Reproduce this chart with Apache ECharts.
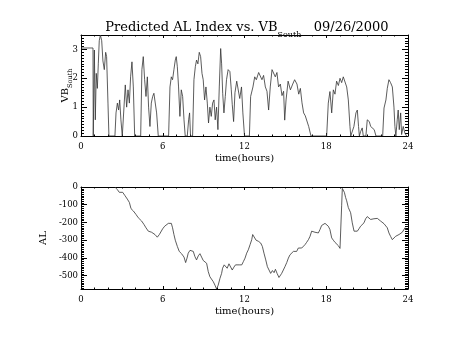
<!DOCTYPE html>
<html>
<head>
<meta charset="utf-8">
<script src="https://cdn.jsdelivr.net/npm/echarts@6/dist/echarts.min.js"></script>
<style>html,body{margin:0;padding:0;background:#fff;}#c{width:454px;height:341px;}</style>
</head>
<body>
<div id="c"></div>
<script>
// ---- data (hours, values) ----
const xTicks = [0, 6, 12, 18, 24];
const vbTime = [0,0.88,0.9,0.98,1.05,1.12,1.2,1.27,1.34,1.42,1.52,1.61,1.71,1.81,1.88,1.98,2.05,2.49,2.57,2.67,2.76,2.84,2.93,3.03,3.15,3.25,3.35,3.45,3.55,3.64,3.74,3.84,3.94,4.38,4.47,4.57,4.67,4.77,4.87,4.96,5.06,5.16,5.26,5.35,5.45,5.55,5.67,6.43,6.53,6.63,6.72,6.82,6.92,6.99,7.07,7.16,7.26,7.36,7.46,7.56,7.65,7.8,7.9,7.97,8.04,8.19,8.29,8.39,8.48,8.58,8.68,8.78,8.88,8.97,9.07,9.17,9.27,9.36,9.46,9.56,9.66,9.76,9.85,9.95,10.05,10.15,10.25,10.32,10.4,10.49,10.59,10.68,10.8,10.93,11.03,11.1,11.2,11.3,11.43,11.55,11.65,11.78,11.88,12.0,12.36,12.45,12.62,12.75,12.87,13.04,13.16,13.28,13.4,13.53,13.65,13.77,13.89,14.02,14.14,14.26,14.38,14.5,14.63,14.75,14.87,14.95,15.05,15.2,15.37,15.54,15.68,15.85,15.98,16.1,16.22,16.34,16.46,16.58,16.71,16.88,18.03,18.15,18.27,18.4,18.52,18.64,18.76,18.89,19.01,19.13,19.25,19.37,19.5,19.62,19.74,19.8,19.85,20.03,20.18,20.28,20.37,20.43,20.52,20.64,20.72,20.91,21.01,21.16,21.26,21.4,21.52,21.65,22.14,22.24,22.38,22.48,22.6,22.72,22.85,22.97,23.04,23.11,23.21,23.28,23.36,23.46,23.53,23.65,23.77,23.9];
const vbSouth = [3.05,3.05,0,2.98,0.56,2.17,1.65,2.5,3.3,3.5,3.3,2.6,2.3,2.9,2.75,1.14,0,0,0.8,1.14,0.9,1.25,0.56,0,0,1.77,1.0,1.6,1.14,2.05,2.57,1.7,0,0,2.3,2.75,1.95,1.37,2.05,1.0,0.33,1.14,1.37,1.48,1.43,0.8,0,0,1.7,2.05,1.95,2.3,2.63,2.75,2.4,1.7,0.68,1.6,1.37,0.56,0,0,0.56,0.8,0,0,1.95,2.4,2.63,2.5,2.9,2.75,2.17,1.95,1.25,1.7,1.14,0.45,1.0,0.68,1.14,1.25,0.56,1.0,0.22,1.7,3.03,2.5,1.48,0.8,1.37,1.95,2.3,2.23,1.6,1.1,0.5,1.5,1.9,1.95,1.3,1.7,0.8,0,0,1.37,1.7,2.05,1.95,2.2,2.23,1.95,2.1,1.7,1.55,0.9,1.7,2.3,2.35,2.05,2.2,1.7,1.8,1.4,1.55,0.55,1.25,1.9,1.6,1.8,1.95,1.8,1.45,1.65,1.15,0.8,0.7,0.7,0.33,0,0,1.14,1.54,0.8,1.6,1.45,1.9,1.75,2.0,1.85,2.05,2.1,1.7,1.25,0.33,0,0,0.33,0.8,0.9,0.33,0,0.15,0.28,0,0,0.56,0.5,0.33,0.3,0.22,0,0,0.97,1.25,1.65,1.95,1.85,1.7,1.0,0.33,0,0.56,0.9,0.22,0.8,0.05,0.33,0.1,0];
const alTime = [2.49,2.67,2.81,2.93,3.06,3.23,3.4,3.55,3.67,3.84,4.03,4.2,4.33,4.45,4.62,4.77,4.94,5.06,5.18,5.31,5.43,5.6,5.75,5.84,5.99,6.14,6.28,6.41,6.53,6.63,6.72,6.82,6.92,7.07,7.21,7.38,7.56,7.68,7.78,7.87,8.0,8.12,8.24,8.36,8.48,8.61,8.73,8.85,8.97,9.1,9.22,9.34,9.46,9.58,9.71,9.83,9.95,10.07,10.2,10.32,10.39,10.51,10.64,10.73,10.86,10.98,11.1,11.22,11.34,11.47,11.61,11.8,11.92,12.04,12.16,12.28,12.41,12.53,12.6,12.7,12.85,13.02,13.19,13.31,13.43,13.56,13.68,13.8,13.92,14.05,14.17,14.27,14.39,14.53,14.61,14.73,14.85,14.97,15.1,15.22,15.34,15.46,15.59,15.71,15.83,15.95,16.07,16.2,16.32,16.44,16.56,16.69,16.81,16.93,17.05,17.17,17.3,17.42,17.54,17.66,17.79,17.91,18.03,18.15,18.27,18.4,18.52,18.64,18.76,18.89,19.01,19.08,19.13,19.18,19.25,19.33,19.42,19.5,19.62,19.74,19.79,19.91,20.04,20.16,20.28,20.4,20.52,20.65,20.77,20.89,21.01,21.14,21.26,21.38,21.5,21.62,21.75,21.87,21.99,22.11,22.24,22.36,22.48,22.6,22.72,22.85,22.97,23.09,23.21,23.34,23.46,23.58,23.7,23.78,23.85];
const alValue = [0,-15,-30,-23,-30,-49,-68,-87,-122,-135,-154,-173,-179,-192,-211,-230,-249,-243,-255,-259,-268,-283,-268,-259,-236,-221,-211,-205,-198,-205,-230,-268,-300,-335,-363,-376,-395,-426,-401,-373,-357,-350,-363,-392,-411,-388,-376,-395,-414,-420,-430,-477,-506,-515,-534,-553,-575,-553,-515,-487,-458,-439,-449,-458,-433,-439,-468,-452,-439,-449,-439,-439,-420,-401,-373,-354,-325,-297,-268,-278,-300,-306,-316,-335,-373,-411,-449,-468,-487,-471,-483,-464,-487,-510,-515,-487,-468,-449,-426,-401,-382,-373,-363,-354,-363,-344,-354,-344,-335,-325,-312,-297,-278,-249,-243,-255,-262,-259,-240,-217,-211,-205,-202,-221,-240,-287,-300,-312,-319,-331,-346,-338,-106,-8,-15,-30,-59,-78,-116,-125,-145,-202,-249,-243,-249,-236,-221,-211,-202,-179,-167,-173,-183,-173,-179,-173,-177,-173,-192,-202,-207,-211,-230,-259,-278,-297,-287,-278,-274,-268,-268,-255,-249,-230,-243];

const vbTicks = [0, 1, 2, 3];
const alTicks = [0, -100, -200, -300, -400, -500];

const SERIF = '"DejaVu Serif", serif';
const ink = '#000';

function xAx(grid, top, showLabel) {
  return {
    type: 'value', gridIndex: grid, position: top ? 'top' : 'bottom',
    min: 0, max: 24, interval: 6,
    axisLine: {show: true, onZero: false, lineStyle: {color: ink, width: 1}},
    axisTick: {show: true, inside: true, length: 3, lineStyle: {color: ink}},
    minorTick: {show: true, splitNumber: 6, length: 1.5, lineStyle: {color: ink}},
    splitLine: {show: false},
    axisLabel: {show: showLabel, color: ink, fontFamily: SERIF, fontSize: 8.5, margin: 6},
    name: showLabel ? 'time(hours)' : '', nameLocation: 'middle', nameGap: 17,
    nameTextStyle: {color: ink, fontFamily: SERIF, fontSize: 10}
  };
}
function yAx(grid, right, min, max, showLabel, name, nameGap, minorSplit, moveOverlap) {
  return {
    type: 'value', gridIndex: grid, position: right ? 'right' : 'left',
    min: min, max: max, splitNumber: 6,
    axisLine: {show: true, onZero: false, lineStyle: {color: ink, width: 1}},
    axisTick: {show: true, inside: true, length: 6, lineStyle: {color: ink}},
    minorTick: {show: true, splitNumber: minorSplit, length: 3, lineStyle: {color: ink}},
    splitLine: {show: false},
    axisLabel: {show: showLabel, color: ink, fontFamily: SERIF, fontSize: 8.5, margin: 3, showMaxLabel: min === 0 ? false : true, showMinLabel: min === 0 ? true : false},
    name: showLabel ? name : '', nameLocation: 'middle', nameRotate: 90, nameGap: nameGap,
    nameMoveOverlap: moveOverlap,
    nameTextStyle: {color: ink, fontFamily: SERIF, fontSize: 10,
      rich: {a: {fontFamily: SERIF, fontSize: 10, color: ink, padding: [0, 0, 4, 0], verticalAlign: 'bottom'},
             b: {fontFamily: SERIF, fontSize: 6.5, color: ink, verticalAlign: 'bottom'}}}
  };
}

const chart = echarts.init(document.getElementById('c'), null, {renderer: 'canvas'});
chart.setOption({
  animation: false,
  backgroundColor: '#fff',
  title: {
    text: '{a|Predicted AL Index vs. VB}{b|South}{a|   09/26/2000}',
    left: 242, top: 16, textAlign: 'center',
    textStyle: {fontWeight: 'normal', rich: {
      a: {fontFamily: SERIF, fontSize: 13, fontWeight: 'normal', color: ink, padding: [0, 0, 5, 0], verticalAlign: 'bottom'},
      b: {fontFamily: SERIF, fontSize: 8, fontWeight: 'normal', color: ink, verticalAlign: 'bottom'}
    }}
  },
  grid: [
    {left: 81, right: 46, top: 35, height: 101},
    {left: 81, right: 46, top: 187, height: 102}
  ],
  xAxis: [xAx(0, false, true), xAx(0, true, false), xAx(1, false, true), xAx(1, true, false)],
  yAxis: [
    Object.assign(yAx(0, false, 0, 3.5, true, '{a|VB}{b|South}', 7, 10, false), {interval: 1}),
    Object.assign(yAx(0, true, 0, 3.5, false, '', 0, 10, false), {interval: 1}),
    yAx(1, false, -575, 0, true, 'AL', 30, 10, true),
    yAx(1, true, -575, 0, false, '', 0, 10, false)
  ],
  series: [
    {type: 'line', xAxisIndex: 0, yAxisIndex: 0, showSymbol: false, symbol: 'none',
     lineStyle: {color: '#333', width: 0.8},
     data: vbTime.map((t, i) => [t, vbSouth[i]])},
    {type: 'line', xAxisIndex: 2, yAxisIndex: 2, showSymbol: false, symbol: 'none',
     lineStyle: {color: '#333', width: 0.8},
     data: alTime.map((t, i) => [t, alValue[i]])}
  ]
});
</script>
</body>
</html>
